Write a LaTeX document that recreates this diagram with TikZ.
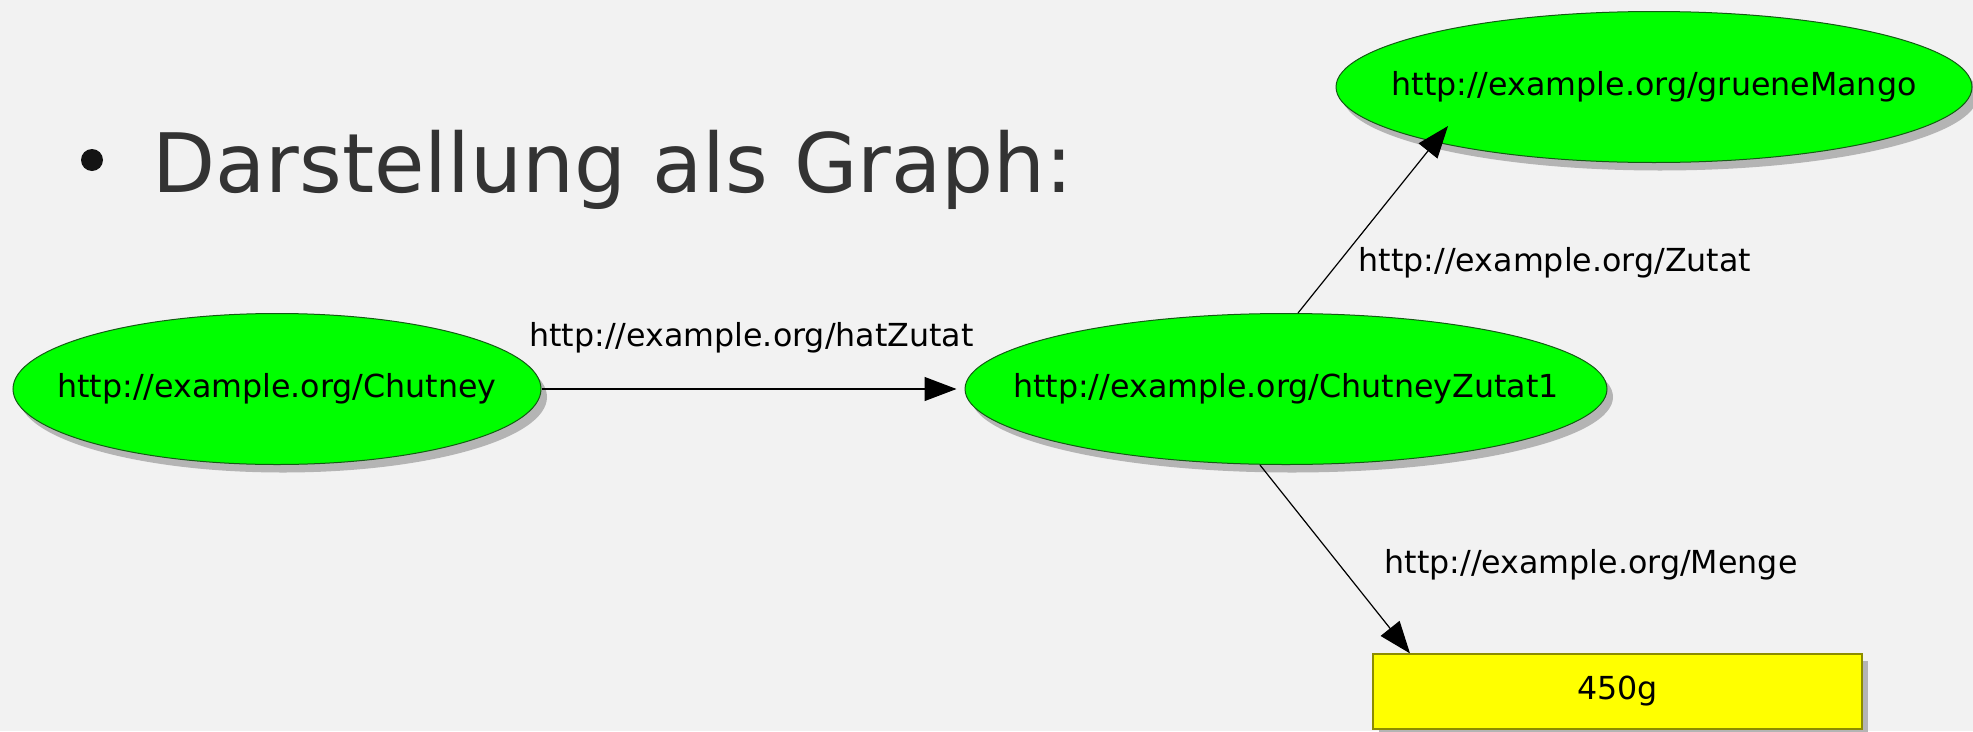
\documentclass[tikz,border=0pt]{standalone}
\usepackage{fontspec}
\setmainfont{DejaVu Sans}
\usetikzlibrary{shapes.geometric,shadows,arrows.meta,calc}
\definecolor{bgc}{HTML}{F2F2F2}
\definecolor{nodegreen}{RGB}{0,255,0}
\definecolor{greenline}{RGB}{20,90,20}
\definecolor{nodeyellow}{RGB}{255,255,0}
\definecolor{yellowline}{RGB}{140,140,0}
\definecolor{shadowc}{RGB}{180,180,180}
\definecolor{titlec}{HTML}{333333}
\newcommand{\lblfont}{\fontsize{31.7}{38}\selectfont}
\newcommand{\zbox}[1]{\makebox[0pt][c]{#1}}
\tikzset{
 res/.style={ellipse, draw=greenline, line width=1pt, fill=nodegreen, inner sep=0pt, font=\lblfont,
   drop shadow={shadow xshift=6pt, shadow yshift=-8pt, fill=shadowc, opacity=1}},
 lit/.style={rectangle, draw=yellowline, line width=1.2pt, fill=nodeyellow, inner sep=0pt,
   minimum width=489pt, minimum height=75pt, font=\lblfont,
   drop shadow={shadow xshift=6pt, shadow yshift=-7pt, fill=shadowc, opacity=1}},
 edgelbl/.style={font=\lblfont, inner sep=0pt, anchor=base},
 conn/.style={line width=1.2pt, -{Triangle[length=32pt,width=24pt]}},
}
\begin{document}
\begin{tikzpicture}[x=1pt,y=-1pt]
\useasboundingbox (0,0) rectangle (1973,731);
\fill[bgc] (0,0) rectangle (1973,731);
\node[circle, fill=black!92, minimum size=22pt, inner sep=0pt] (bullet) at (92,160) {};
\node[anchor=base west, inner sep=0pt, text=titlec, font=\fontsize{82}{98}\selectfont] (title) at (152,192) {Darstellung als Graph:};
\node[res, minimum width=528pt, minimum height=151pt] (chut) at (277,389) {\zbox{http://example.org/Chutney}};
\node[res, minimum width=642pt, minimum height=151pt] (zut1) at (1286,389) {\zbox{http://example.org/ChutneyZutat1}};
\node[res, minimum width=636pt, minimum height=151pt] (mango) at (1654,87) {\zbox{http://example.org/grueneMango}};
\node[lit] (menge) at (1617.5,691.5) {450g};
\draw[conn] (chut.east) -- ([xshift=-8pt]zut1.west);
\draw[conn] ([xshift=12pt]zut1.north) -- ($(mango.center)+(-206,39)$);
\draw[conn] ([xshift=-26pt]zut1.south) -- ([xshift=-207.5pt]menge.north);
\node[edgelbl] (lhat) at (751.5,346) {http://example.org/hatZutat};
\node[edgelbl] (lzutat) at (1555,271) {http://example.org/Zutat};
\node[edgelbl] (lmenge) at (1591,573) {http://example.org/Menge};
\end{tikzpicture}
\end{document}
